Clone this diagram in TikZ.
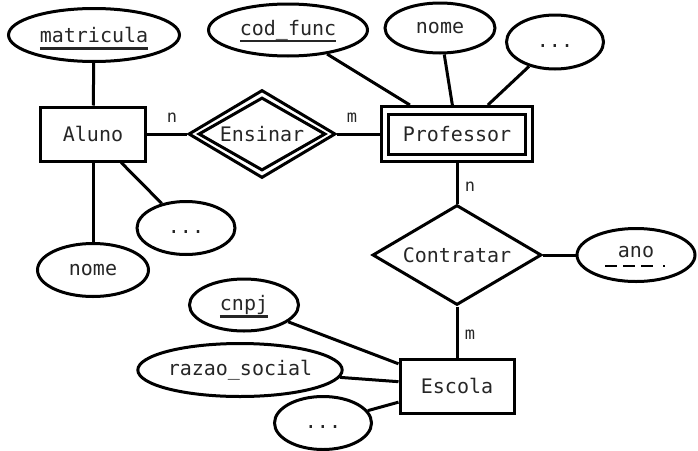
\documentclass[tikz,border=0pt]{standalone}
\usepackage{fontspec}
\setmonofont{DejaVu Sans Mono}
\usetikzlibrary{shapes.geometric}
\newcommand{\ulkey}[1]{\setbox0\hbox{#1}\rlap{\smash{\rule[-7pt]{\wd0}{2.4pt}}}\box0}
\begin{document}
\begin{tikzpicture}[x=1pt,y=-1pt,line width=3pt,
  every node/.style={font=\ttfamily\fontsize{20pt}{24pt}\selectfont,inner sep=0pt,text=black!85},
  attr/.style n args={2}{ellipse,draw,minimum width=#1,minimum height=#2},
  entity/.style n args={2}{rectangle,draw,minimum width=#1,minimum height=#2},
  rel/.style n args={2}{diamond,draw,shape aspect=1.7,minimum width=#1,minimum height=#2},
  lbl/.style={font=\ttfamily\fontsize{17pt}{20pt}\selectfont},
  keydash/.style={line width=2.8pt,dash pattern=on 12pt off 6pt on 12pt off 6pt on 12pt off 10pt on 2pt off 20pt}]
\useasboundingbox (0,0) rectangle (698,450);
% attributes
\node[attr={171pt}{53pt}] (matr) at (94,35) {\ulkey{matricula}};
\node[attr={159pt}{52pt}] (codf) at (288,30) {\ulkey{cod\_func}};
\node[attr={110pt}{50pt}] (pnome) at (440,28) {nome};
\node[attr={97pt}{54pt}] (pdots) at (555,42) {\vphantom{x}...};
\node[attr={111pt}{53pt}] (anome) at (93,270) {nome};
\node[attr={98pt}{53pt}] (adots) at (186,228) {\vphantom{x}...};
\node[attr={118pt}{53pt},text height=11pt,text depth=7pt] (ano) at (636,255) {ano};
\node[attr={109pt}{52pt}] (cnpj) at (244,305) {\ulkey{cnpj}};
\node[attr={204pt}{53pt}] (razao) at (240,370) {razao\_social};
\node[attr={97pt}{53pt}] (edots) at (323,423) {\vphantom{x}...};
% entities
\node[entity={105pt}{54pt}] (aluno) at (93,134) {Aluno};
\node[entity={151pt}{55pt}] (prof) at (457,134) {};
\node[entity={137pt}{40pt}] (profi) at (457,134) {Professor};
\node[entity={114pt}{54pt}] (esc) at (457,386) {Escola};
% relationships
\node[rel={147pt}{88pt}] (ens) at (262,134) {};
\node[rel={127pt}{73pt}] (ensi) at (262,134) {Ensinar};
\node[rel={169pt}{100pt}] (contr) at (457,255) {Contratar};
% partial key
\draw[keydash] ([shift={(-31,11)}]ano.center) -- ++(62,0);
% connectors
\draw (matr) -- (aluno);
\draw (aluno) -- (anome);
\draw (aluno) -- (adots);
\draw (aluno) -- (ens);
\draw (ens) -- (prof);
\draw (codf) -- (prof);
\draw (pnome) -- (prof);
\draw (pdots) -- (prof);
\draw (prof) -- (contr);
\draw (contr) -- (ano);
\draw (contr) -- (esc);
\draw (cnpj) -- (esc);
\draw (razao) -- (esc);
\draw (edots) -- (esc);
% cardinalities
\node[lbl] (c1) at (172,118) {n};
\node[lbl] (c2) at (352,118) {m};
\node[lbl] (c3) at (470,187) {n};
\node[lbl] (c4) at (470,335) {m};
\end{tikzpicture}
\end{document}
